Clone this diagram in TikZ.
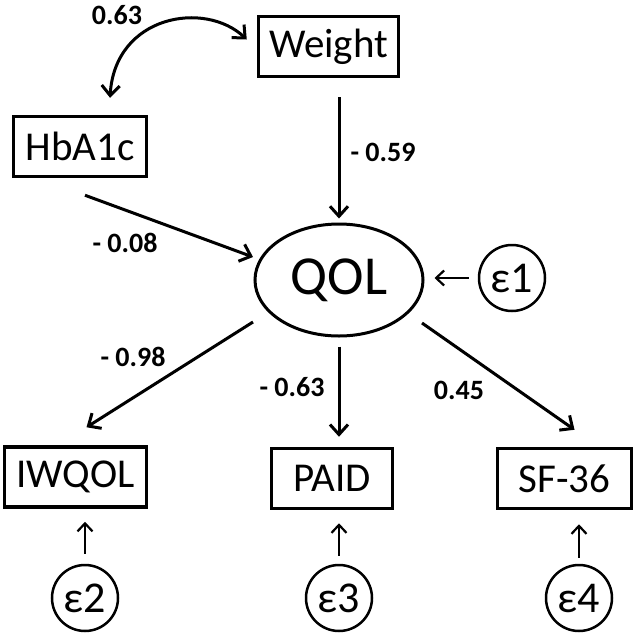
\documentclass[tikz,border=0pt]{standalone}
\usepackage{fontspec}
\setmainfont{Carlito}
\usetikzlibrary{arrows.meta,shapes.geometric}

\begin{document}
\begin{tikzpicture}[x=0.5pt,y=-0.5pt,
	box/.style={draw, line width=1.75pt, inner sep=0pt, minimum height=30pt, font=\fontsize{20.5}{20.5}\selectfont},
	latent/.style={draw, ellipse, line width=1.5pt, inner sep=0pt, minimum width=84pt, minimum height=56pt, font=\fontsize{27.5}{27.5}\selectfont},
	err/.style={draw, circle, line width=1.25pt, inner sep=0pt, minimum size=33pt, font=\fontsize{22}{22}\selectfont},
	coef/.style={font=\fontsize{14}{14}\selectfont\bfseries},
	path/.style={line width=1.5pt, -{Straight Barb[length=5pt,width=9pt,line width=1.5pt]}},
	errpath/.style={line width=1.1pt, -{Straight Barb[length=4pt,width=7.5pt,line width=1.1pt]}}]

	\useasboundingbox (0,0) rectangle (637,638);

	% observed and latent variables
	\node[box, minimum width=70pt] (weight) at (328.5,46.5) {Weight};
	\node[box, minimum width=66.5pt] (hba) at (80,146.5) {HbA1c};
	\node[latent] (qol) at (339,280) {QOL};
	\node[err] (e1) at (512,278) {ε1};

	\node[box, minimum width=71pt] (iwqol) at (75.5,477) {IWQOL};
	\node[box, minimum width=60.5pt] (paid) at (332,478.5) {PAID};
	\node[box, minimum width=67pt] (sf) at (564.5,478.5) {SF-36};

	\node[err] (e2) at (85,598) {ε2};
	\node[err] (e3) at (339,598) {ε3};
	\node[err] (e4) at (579,598) {ε4};

	% covariance
	\draw[line width=1.5pt, {Straight Barb[length=5pt,width=9pt,line width=1.5pt]}-{Straight Barb[length=5pt,width=9pt,line width=1.5pt]}]
		([shift={(30,-17)}]hba.north) .. controls (115,15) and (205,0) .. ([shift={(-10,-7)}]weight.west);

	% paths
	\draw[path, shorten <=9.5pt, shorten >=2pt] (weight.south -| qol.north) -- (qol.north);
	\draw[path] ([shift={(5,17)}]hba.south) -- ([shift={(-86,-23)}]qol.center);
	\draw[path] ([shift={(-86,42)}]qol.center) -- ([shift={(11,-18)}]iwqol.north);
	\draw[path, shorten <=4.5pt, shorten >=5pt] (qol.south) -- (paid.north -| qol.south);
	\draw[path] ([shift={(83,43)}]qol.center) -- ([shift={(10,-17)}]sf.north);

	\draw[errpath, shorten <=4.5pt, shorten >=5pt] (e1.west) -- (qol.east |- e1.west);
	\draw[errpath, shorten <=5pt, shorten >=6.5pt] (e2.north) -- (e2.north |- iwqol.south);
	\draw[errpath, shorten <=4pt, shorten >=6.5pt] (e3.north) -- (e3.north |- paid.south);
	\draw[errpath, shorten <=3pt, shorten >=7pt] (e4.north) -- (e4.north |- sf.south);

	% coefficients
	\node[coef] (c1) at (117,15) {0.63};
	\node[coef] (c2) at (383,152) {- 0.59};
	\node[coef] (c3) at (125,243) {- 0.08};
	\node[coef] (c4) at (133,357) {- 0.98};
	\node[coef] (c5) at (292,387) {- 0.63};
	\node[coef] (c6) at (459,390) {0.45};

\end{tikzpicture}
\end{document}
